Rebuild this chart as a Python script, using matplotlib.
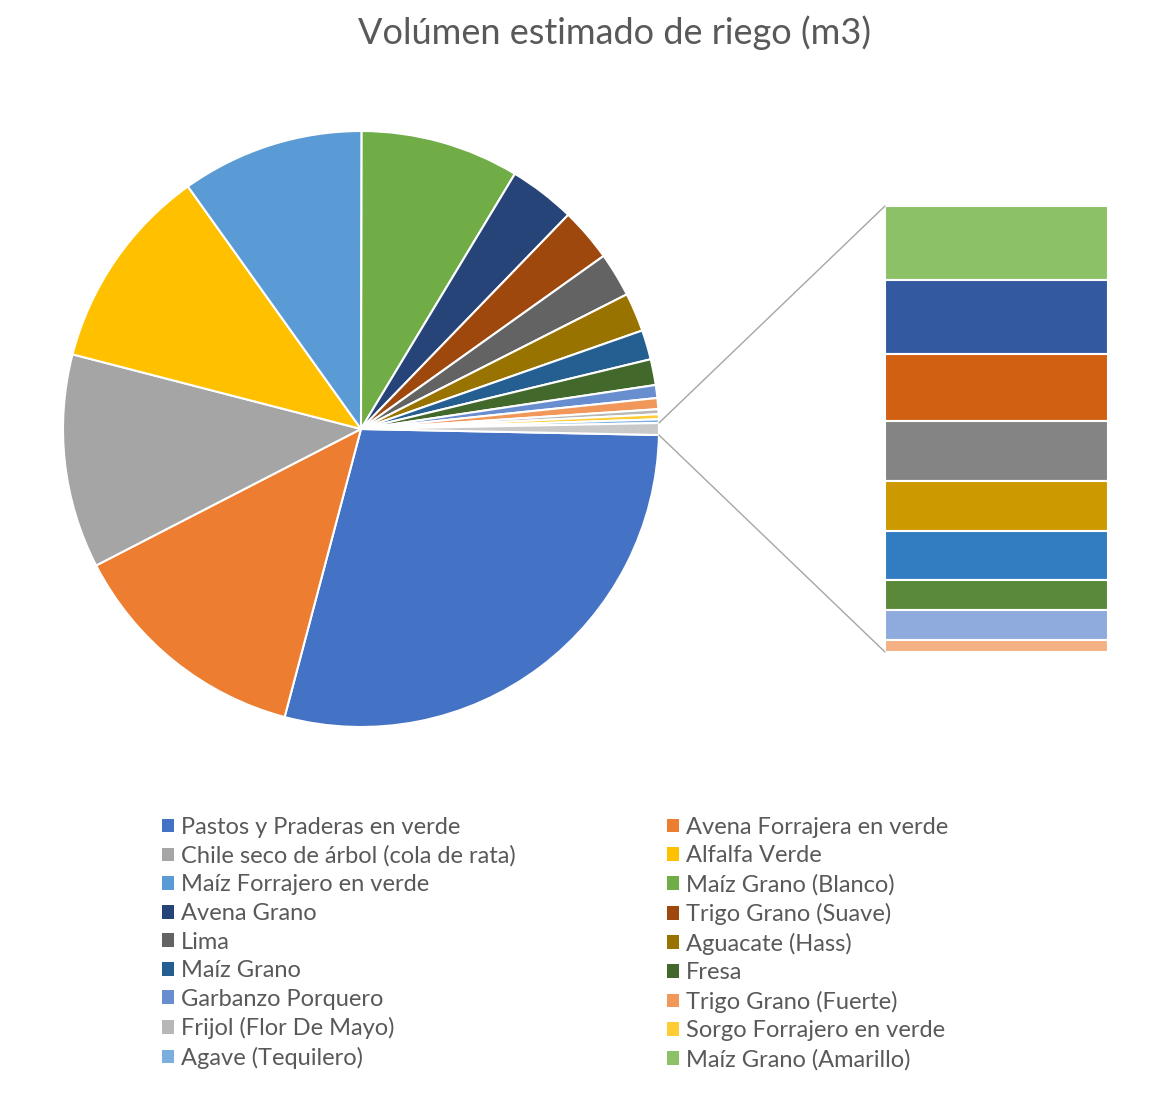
import matplotlib.pyplot as plt
from matplotlib.patches import ConnectionPatch
import numpy as np

plt.rcParams['font.family'] = ['Lato', 'DejaVu Sans']

# share of total irrigation volume (%)
crops = ["Pastos y Praderas en verde", "Avena Forrajera en verde",
         "Chile seco de árbol (cola de rata)", "Alfalfa Verde",
         "Maíz Forrajero en verde", "Maíz Grano (Blanco)", "Avena Grano",
         "Trigo Grano (Suave)", "Lima", "Aguacate (Hass)", "Maíz Grano",
         "Fresa", "Garbanzo Porquero", "Trigo Grano (Fuerte)",
         "Frijol (Flor De Mayo)", "Sorgo Forrajero en verde", "Agave (Tequilero)"]
shares = [28.8, 13.3, 11.6, 11.1, 9.9, 8.6, 3.6, 2.9, 2.4, 2.1, 1.6, 1.4,
          0.7, 0.6, 0.27, 0.27, 0.2]
colors = ['#4472C4', '#ED7D31', '#A5A5A5', '#FFC000', '#5B9BD5', '#70AD47',
          '#264478', '#9E480E', '#636363', '#997300', '#255E91', '#43682B',
          '#698ED0', '#F1975A', '#B7B7B7', '#FFCD33', '#7CAFDD']

# smallest crops, grouped in the side bar (only the first one is named in the legend)
small_crops = ["Maíz Grano (Amarillo)", "otro 1", "otro 2", "otro 3", "otro 4",
               "otro 5", "otro 6", "otro 7", "otro 8"]
small_shares = [0.106, 0.106, 0.096, 0.087, 0.072, 0.070, 0.043, 0.043, 0.017]
small_colors = ['#8CC168', '#335AA1', '#D26012', '#848484', '#CC9A00',
                '#327DC2', '#5A8A39', '#8FAADC', '#F4B183']
other_color = '#C9C9C9'

W, H = 1169, 1114
fig = plt.figure(figsize=(W / 100, H / 100), dpi=100)


def box(x0, y0, x1, y1):
    return [x0 / W, 1 - y1 / H, (x1 - x0) / W, (y1 - y0) / H]


# main pie
cx, cy, r = 361, 429, 298
pad = 1.05
ax = fig.add_axes(box(cx - r * pad, cy - r * pad, cx + r * pad, cy + r * pad))
other = sum(small_shares)
total = sum(shares) + other
other_deg = 360 * other / total
wedges, _ = ax.pie(shares + [other], colors=colors + [other_color],
                   startangle=-other_deg / 2, counterclock=False,
                   wedgeprops=dict(edgecolor='white', linewidth=1.5))
ax.set_xlim(-pad, pad)
ax.set_ylim(-pad, pad)

# secondary bar
axb = fig.add_axes(box(885, 206, 1108, 652))
bottoms = np.concatenate([[0], np.cumsum(small_shares)[:-1]])
bars = axb.bar(0.5, small_shares, width=1, bottom=bottoms, color=small_colors,
               edgecolor='white', linewidth=1.5)
axb.set_xlim(0, 1)
axb.set_ylim(sum(small_shares), 0)
axb.axis('off')

# connector lines
half = np.radians(other_deg / 2)
for sign, yb in [(1, 0), (-1, sum(small_shares))]:
    con = ConnectionPatch(xyA=(np.cos(half), sign * np.sin(half)), coordsA=ax.transData,
                          xyB=(0, yb), coordsB=axb.transData,
                          color='#A6A6A6', lw=1)
    fig.add_artist(con)

fig.text(615 / W, 1 - 33 / H, "Volúmen estimado de riego (m3)",
         ha='center', va='center', fontsize=26, color='#595959')

# legend in two columns, filled row by row
handles = list(wedges[:len(crops)]) + [bars[0]]
labels = crops + [small_crops[0]]
common = dict(loc='upper left', frameon=False, fontsize=17, borderpad=0,
              handlelength=0.52, handleheight=0.52, handletextpad=0.3,
              labelspacing=0.32, labelcolor='#595959')
leg1 = fig.legend(handles[0::2], labels[0::2],
                  bbox_to_anchor=(150 / W, 1 - 805 / H), **common)
leg2 = fig.legend(handles[1::2], labels[1::2],
                  bbox_to_anchor=(655 / W, 1 - 805 / H), **common)
for leg in (leg1, leg2):
    for h in leg.legend_handles:
        h.set_edgecolor('none')

fig.savefig('out.png', dpi=100)
